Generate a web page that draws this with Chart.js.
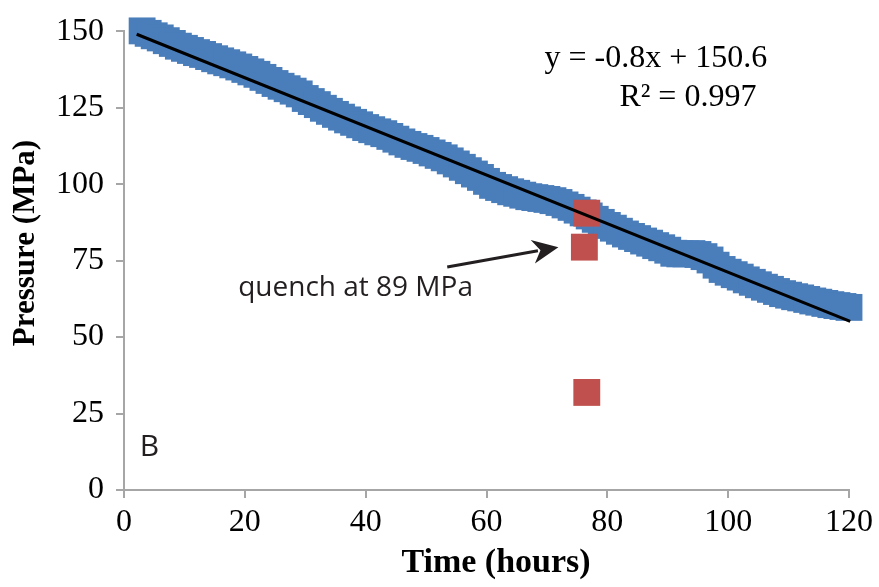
<!DOCTYPE html>
<html>
<head>
<meta charset="utf-8">
<script src="https://cdn.jsdelivr.net/npm/chart.js@4"></script>
<style>
  html, body { margin: 0; padding: 0; background: #ffffff; }
  #wrap { width: 879px; height: 587px; position: relative; }
</style>
</head>
<body>
<div id="wrap"><canvas id="c" width="879" height="587"></canvas></div>
<script>
// Measured pressure band (hours, MPa)
const timeHours = [3,4,5,6,7,8,9,10,11,12,13,14,15,16,17,18,19,20,21,22,23,24,25,26,27,28,29,30,31,32,33,34,35,36,37,38,39,40,41,42,43,44,45,46,47,48,49,50,51,52,53,54,55,56,57,58,59,60,61,62,63,64,65,66,67,68,69,70,71,72,73,74,75,76,77,78,79,80,81,82,83,84,85,86,87,88,89,90,91,92,93,94,95,96,97,98,99,100,101,102,103,104,105,106,107,108,109,110,111,112,113,114,115,116,117,118,119,120];
const pressureMPa = [150.1,149.3,148.5,147.8,146.9,146.0,145.1,144.4,143.7,143.0,142.4,141.7,141.0,140.3,139.7,139.0,138.3,137.5,136.7,135.9,134.9,133.9,132.9,132.0,131.2,130.4,129.5,128.0,127.0,126.0,124.8,123.8,122.8,121.9,121.0,120.2,119.4,118.5,117.8,117.1,116.5,115.6,114.7,113.8,113.0,112.3,111.7,111.0,110.2,109.4,108.6,107.6,106.6,105.5,104.4,103.3,102.2,100.9,99.6,98.9,98.2,97.5,97.0,96.4,95.9,95.6,95.3,95.0,94.6,94.0,93.2,92.4,91.5,90.6,89.6,88.5,87.5,86.5,85.6,84.6,83.7,82.9,82.2,81.4,80.7,79.9,79.2,78.4,77.4,77.2,77.2,77.3,77.0,76.3,75.2,73.5,72.1,71.2,70.4,69.6,68.7,67.9,67.1,66.3,65.6,64.9,64.2,63.7,63.2,62.8,62.3,61.8,61.4,61.0,60.6,60.3,60.0,59.7];

// Quench samples
const quenchTime = [76.6, 76.2, 76.6];
const quenchPressure = [90.5, 79.4, 31.9];

// Linear fit y = -0.8x + 150.6 (endpoints as drawn)
const fitTime = [2.1, 120.2];
const fitPressure = [149.0, 55.1];

// Axis ticks
const xTicks = [0, 20, 40, 60, 80, 100, 120];
const yTicks = [0, 25, 50, 75, 100, 125, 150];

const toPts = (xs, ys) => xs.map((x, i) => ({ x: x, y: ys[i] }));

const SERIF = '"Liberation Serif", "Times New Roman", serif';
const SANS = '"Open Sans", "Liberation Sans", sans-serif';

const annotations = {
  id: 'annotations',
  afterDraw(chart) {
    const ctx = chart.ctx;
    const xs = chart.scales.x, ys = chart.scales.y;
    const px = v => xs.getPixelForValue(v);
    const py = v => ys.getPixelForValue(v);
    ctx.save();
    ctx.fillStyle = '#000000';
    ctx.textBaseline = 'middle';
    // Axis titles
    ctx.textAlign = 'center';
    ctx.font = 'bold 34px ' + SERIF;
    ctx.fillText('Time (hours)', 496, 563);
    ctx.save();
    ctx.translate(26, 243);
    ctx.rotate(-Math.PI / 2);
    ctx.font = 'bold 31px ' + SERIF;
    ctx.fillText('Pressure (MPa)', 0, 0);
    ctx.restore();
    // Equation
    ctx.textAlign = 'left';
    ctx.font = '32px ' + SERIF;
    ctx.fillText('y = -0.8x + 150.6', px(69.6), py(141));
    ctx.fillText('R\u00B2 = 0.997', px(82.0), py(128.2));
    // Quench label
    ctx.fillStyle = '#231f20';
    ctx.font = '28px ' + SANS;
    ctx.fillText('quench at 89 MPa', px(18.9), py(66));
    ctx.font = '30px ' + SANS;
    ctx.fillText('B', px(2.6), py(14));
    // Arrow
    const x1 = px(53.5), y1 = py(72.9), x2 = px(71.9), y2 = py(79.4);
    const ang = Math.atan2(y2 - y1, x2 - x1);
    const headLen = 26, headW = 12;
    ctx.strokeStyle = '#231f20';
    ctx.lineWidth = 3;
    ctx.beginPath();
    ctx.moveTo(x1, y1);
    ctx.lineTo(x2 - headLen * 0.8 * Math.cos(ang), y2 - headLen * 0.8 * Math.sin(ang));
    ctx.stroke();
    ctx.beginPath();
    ctx.moveTo(x2, y2);
    const bx = x2 - headLen * Math.cos(ang), by = y2 - headLen * Math.sin(ang);
    ctx.lineTo(bx + headW * Math.sin(ang), by - headW * Math.cos(ang));
    ctx.lineTo(x2 - headLen * 0.7 * Math.cos(ang), y2 - headLen * 0.7 * Math.sin(ang));
    ctx.lineTo(bx - headW * Math.sin(ang), by + headW * Math.cos(ang));
    ctx.closePath();
    ctx.fillStyle = '#231f20';
    ctx.fill();
    ctx.restore();
  }
};

const tickFont = { family: SERIF, size: 32 };

new Chart(document.getElementById('c'), {
  type: 'scatter',
  data: {
    datasets: [
      {
        label: 'Pressure',
        data: toPts(timeHours, pressureMPa),
        pointStyle: 'rect',
        pointRadius: 19,
        backgroundColor: '#4a7ebb',
        borderColor: '#4a7ebb',
        borderWidth: 0,
        clip: false,
        order: 3
      },
      {
        label: 'Quench',
        data: toPts(quenchTime, quenchPressure),
        pointStyle: 'rect',
        pointRadius: 19,
        backgroundColor: '#c0504d',
        borderColor: '#c0504d',
        borderWidth: 0,
        clip: false,
        order: 2
      },
      {
        label: 'Linear fit',
        type: 'line',
        data: toPts(fitTime, fitPressure),
        borderColor: '#000000',
        borderWidth: 3,
        pointRadius: 0,
        fill: false,
        clip: false,
        order: 1
      }
    ]
  },
  options: {
    responsive: false,
    animation: false,
    layout: { padding: { top: 29, right: 30, left: 0, bottom: 0 } },
    plugins: { legend: { display: false }, tooltip: { enabled: false } },
    scales: {
      x: {
        type: 'linear',
        min: 0, max: 120,
        afterBuildTicks: s => { s.ticks = xTicks.map(v => ({ value: v })); },
        afterFit: s => { s.height = 97; },
        grid: { drawOnChartArea: false, drawTicks: true, tickLength: 8, color: '#a6a6a6', lineWidth: 2 },
        border: { color: '#a6a6a6', width: 2 },
        ticks: { color: '#000000', font: tickFont, padding: 5, maxRotation: 0 },
        title: { display: false }
      },
      y: {
        type: 'linear',
        min: 0, max: 150,
        afterBuildTicks: s => { s.ticks = yTicks.map(v => ({ value: v })); },
        afterFit: s => { s.width = 124; },
        grid: { drawOnChartArea: false, drawTicks: true, tickLength: 8, color: '#a6a6a6', lineWidth: 2 },
        border: { color: '#a6a6a6', width: 2 },
        ticks: { color: '#000000', font: tickFont, padding: 12 },
        title: { display: false }
      }
    }
  },
  plugins: [annotations]
});
</script>
</body>
</html>
